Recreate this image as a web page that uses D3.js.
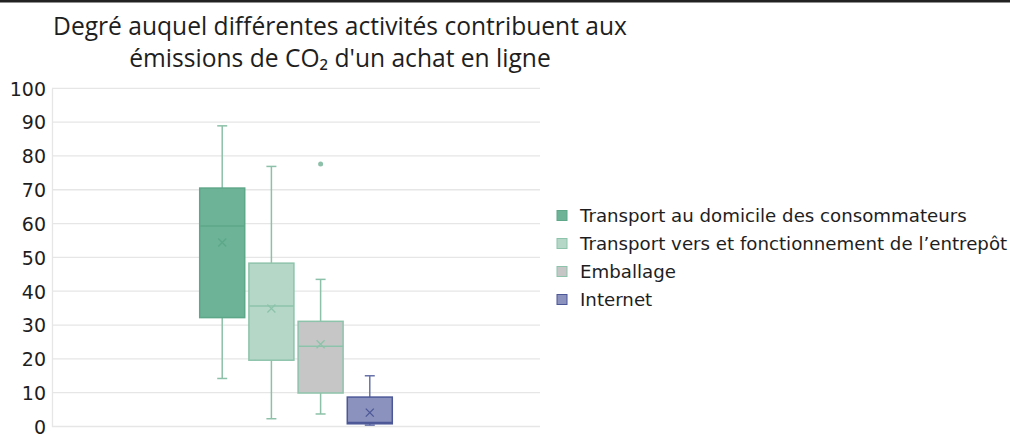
<!DOCTYPE html>
<meta charset="utf-8">
<style>
  body { margin: 0; background: #fff; }
  text { font-family: "DejaVu Sans", sans-serif; fill: #1e1e1e; }
</style>
<svg width="1010" height="434"></svg>
<script src="https://d3js.org/d3.v7.min.js"></script>
<script>

// values
var series = ["Transport au domicile des consommateurs",
              "Transport vers et fonctionnement de l\u2019entrepôt",
              "Emballage",
              "Internet"];
var mins    = [14.2, 2.3, 3.7, 0.4];
var q1s     = [32.2, 19.6, 9.9, 0.8];
var medians = [59.3, 35.6, 23.7, 1.2];
var q3s     = [70.5, 48.3, 31.1, 8.7];
var maxs    = [88.9, 76.9, 43.5, 15.0];
var means   = [54.4, 34.9, 24.3, 4.1];
var outliers = [[], [], [77.6], []];
var yTicks  = [0, 10, 20, 30, 40, 50, 60, 70, 80, 90, 100];

var fills   = ["#6cb397", "#b4d7c7", "#c6c6c6", "#8a92bd"];
var strokes = ["#5ea789", "#8ec3ab", "#8ec3ab", "#4c5797"];
var whisk   = ["#8dc0a8", "#8dc0a8", "#8dc0a8", "#6a73aa"];

var svg = d3.select("svg"),
    width = +svg.attr("width"),
    height = +svg.attr("height");

// top frame line
svg.append("rect").attr("x", 0).attr("y", 0).attr("width", width).attr("height", 2.5).attr("fill", "#222");

// title
var title = svg.append("text")
    .attr("text-anchor", "middle")
    .style("font-family", "'Open Sans', sans-serif")
    .style("font-size", "24.6px");
title.append("tspan").attr("x", 340).attr("y", 35).text("Degré auquel différentes activités contribuent aux");
title.append("tspan").attr("x", 340).attr("y", 67).text("émissions de CO\u2082 d'un achat en ligne");

var plot = {left: 52, right: 540, top: 88.3, bottom: 426.5};

var y = d3.scaleLinear().domain([0, 100]).range([plot.bottom, plot.top]);

var xGroup = d3.scaleBand().domain(["all"]).range([plot.left, plot.right])
    .paddingInner(0).paddingOuter(0.767);
var x = d3.scaleBand().domain(series)
    .range([xGroup("all"), xGroup("all") + xGroup.bandwidth()])
    .paddingInner(0.085);

// gridlines
svg.append("g")
  .selectAll("line")
  .data(yTicks)
  .enter().append("line")
    .attr("x1", plot.left).attr("x2", plot.right)
    .attr("y1", function(d) { return y(d); })
    .attr("y2", function(d) { return y(d); })
    .attr("stroke", "#e6e6e6")
    .attr("stroke-width", 1.3);

// y axis
var yAxis = svg.append("g")
    .attr("transform", "translate(" + plot.left + ",0)")
    .call(d3.axisLeft(y).tickValues(yTicks).tickSize(0).tickPadding(6));
yAxis.select(".domain").attr("stroke", "#e6e6e6").attr("stroke-width", 1.3);
yAxis.selectAll("text")
    .style("font-size", "19px")
    .attr("fill", "#262626")
    .attr("dy", "0.36em");

// boxes
var boxes = series.map(function(s, i) {
  return {name: s, min: mins[i], q1: q1s[i], med: medians[i], q3: q3s[i],
          max: maxs[i], mean: means[i], out: outliers[i], i: i};
});

var g = svg.append("g").selectAll("g")
    .data(boxes)
    .enter().append("g");

var cap = 5;

g.each(function(d) {
  var sel = d3.select(this),
      x0 = x(d.name), bw = x.bandwidth(), cx = x0 + bw / 2;

  // whiskers
  sel.append("line")
      .attr("x1", cx).attr("x2", cx)
      .attr("y1", y(d.max)).attr("y2", y(d.q3))
      .attr("stroke", whisk[d.i]).attr("stroke-width", 1.5);
  sel.append("line")
      .attr("x1", cx).attr("x2", cx)
      .attr("y1", y(d.q1)).attr("y2", y(d.min))
      .attr("stroke", whisk[d.i]).attr("stroke-width", 1.5);
  sel.append("line")
      .attr("x1", cx - cap).attr("x2", cx + cap)
      .attr("y1", y(d.max)).attr("y2", y(d.max))
      .attr("stroke", whisk[d.i]).attr("stroke-width", 1.5);
  sel.append("line")
      .attr("x1", cx - cap).attr("x2", cx + cap)
      .attr("y1", y(d.min)).attr("y2", y(d.min))
      .attr("stroke", whisk[d.i]).attr("stroke-width", 1.5);

  // box
  sel.append("rect")
      .attr("x", x0).attr("width", bw)
      .attr("y", y(d.q3)).attr("height", y(d.q1) - y(d.q3))
      .attr("fill", fills[d.i])
      .attr("stroke", strokes[d.i]).attr("stroke-width", 1.5);

  // median
  sel.append("line")
      .attr("x1", x0).attr("x2", x0 + bw)
      .attr("y1", y(d.med)).attr("y2", y(d.med))
      .attr("stroke", strokes[d.i]).attr("stroke-width", 1.5);

  // mean marker
  var m = 4, my = y(d.mean);
  sel.append("path")
      .attr("d", "M" + (cx - m) + "," + (my - m) + "L" + (cx + m) + "," + (my + m) +
                 "M" + (cx - m) + "," + (my + m) + "L" + (cx + m) + "," + (my - m))
      .attr("stroke", strokes[d.i]).attr("stroke-width", 1.3).attr("fill", "none");

  // outliers
  sel.selectAll("circle")
      .data(d.out)
      .enter().append("circle")
      .attr("cx", cx).attr("cy", function(v) { return y(v); })
      .attr("r", 2.5)
      .attr("fill", whisk[d.i]);
});

// legend
var legend = svg.append("g").selectAll("g")
    .data(series)
    .enter().append("g")
    .attr("transform", function(d, i) { return "translate(557," + (215.5 + i * 28) + ")"; });

legend.append("rect")
    .attr("x", 0).attr("y", -5).attr("width", 10).attr("height", 10)
    .attr("fill", function(d, i) { return fills[i]; })
    .attr("stroke", function(d, i) { return strokes[i]; })
    .attr("stroke-width", 1);

legend.append("text")
    .attr("x", 23).attr("y", 0).attr("dy", "0.36em")
    .style("font-size", "18.2px")
    .text(function(d) { return d; });

</script>
